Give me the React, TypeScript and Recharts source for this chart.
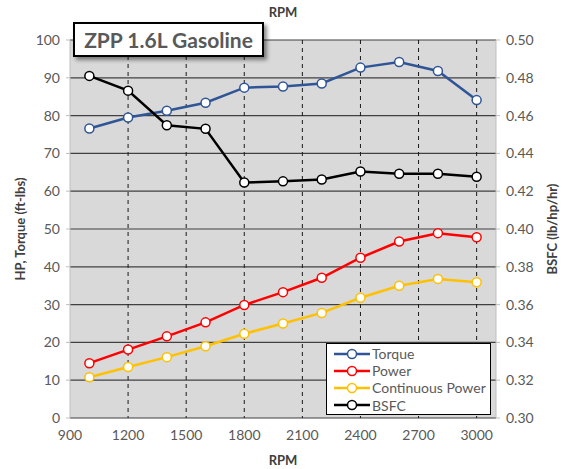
import React from 'react';
import { LineChart, Line, XAxis, YAxis, CartesianGrid } from 'recharts';

const rpm = [1000, 1200, 1400, 1600, 1800, 2000, 2200, 2400, 2600, 2800, 3000];
const torque = [76.6, 79.5, 81.3, 83.4, 87.4, 87.7, 88.5, 92.7, 94.2, 91.8, 84.1];
const power = [14.5, 18.1, 21.6, 25.3, 29.9, 33.3, 37.1, 42.4, 46.7, 48.9, 47.8];
const continuousPower = [10.8, 13.5, 16.1, 19.0, 22.3, 25.0, 27.8, 31.8, 35.0, 36.8, 35.9];
const bsfc = [0.481, 0.4732, 0.4549, 0.453, 0.4246, 0.4252, 0.4262, 0.4304, 0.4292, 0.4292, 0.4276];

const xTicks = [900, 1200, 1500, 1800, 2100, 2400, 2700, 3000];
const leftTicks = [0, 10, 20, 30, 40, 50, 60, 70, 80, 90, 100];
const rightTicks = [0.3, 0.32, 0.34, 0.36, 0.38, 0.4, 0.42, 0.44, 0.46, 0.48, 0.5];

const series = [
  { key: 'torque', name: 'Torque', color: '#2f5597', axis: 'l' },
  { key: 'power', name: 'Power', color: '#ff0000', axis: 'l' },
  { key: 'cont', name: 'Continuous Power', color: '#ffc000', axis: 'l' },
  { key: 'bsfc', name: 'BSFC', color: '#000000', axis: 'r' },
];

const data = rpm.map((r, i) => ({
  rpm: r,
  torque: torque[i],
  power: power[i],
  cont: continuousPower[i],
  bsfc: bsfc[i],
}));

const FONT = 'Lato, "Open Sans", sans-serif';
const tickStyle = { fill: '#595959', fontSize: 14, fontFamily: FONT };
const titleStyle = { fill: '#404040', fontSize: 13, fontWeight: 700, fontFamily: FONT };

export default function App() {
  return (
    <div style={{ position: 'absolute', left: 0, top: 0, width: 564, height: 469, background: '#fff', fontFamily: FONT }}>
      <LineChart width={564} height={469} data={data} margin={{ top: 0, right: 0, bottom: 0, left: 0 }}>
        <CartesianGrid
          xAxisId="b"
          yAxisId="l"
          vertical={false}
          stroke="#404040"
          strokeWidth={1.2}
          fill="#d9d9d9"
          fillOpacity={1}
        />
        <CartesianGrid
          xAxisId="b"
          yAxisId="l"
          horizontal={false}
          stroke="#1a1a1a"
          strokeDasharray="4 4"
          verticalValues={xTicks.slice(1)}
        />
        <XAxis
          xAxisId="b"
          dataKey="rpm"
          type="number"
          domain={[900, 3100]}
          ticks={xTicks}
          height={51}
          axisLine={false}
          tickLine={false}
          tick={tickStyle}
          tickMargin={6}
          label={{ value: 'RPM', position: 'insideBottom', offset: 4, style: titleStyle }}
        />
        <XAxis
          xAxisId="t"
          orientation="top"
          dataKey="rpm"
          type="number"
          domain={[900, 3100]}
          height={40}
          axisLine={false}
          tickLine={false}
          tick={false}
          label={{ value: 'RPM', position: 'insideTop', offset: 8, style: titleStyle }}
        />
        <YAxis
          yAxisId="l"
          domain={[0, 100]}
          ticks={leftTicks}
          width={70}
          axisLine={{ stroke: '#bfbfbf' }}
          tickLine={{ stroke: '#bfbfbf' }}
          tickSize={4}
          tickMargin={6}
          tick={tickStyle}
          label={{ value: 'HP, Torque (ft-lbs)', angle: -90, position: 'insideLeft', offset: 20, style: { ...titleStyle, textAnchor: 'middle' } }}
        />
        <YAxis
          yAxisId="r"
          orientation="right"
          domain={[0.3, 0.5]}
          ticks={rightTicks}
          width={68}
          axisLine={{ stroke: '#bfbfbf' }}
          tickLine={{ stroke: '#bfbfbf' }}
          tickSize={4}
          tickMargin={6}
          tick={tickStyle}
          tickFormatter={(v: number) => v.toFixed(2)}
          label={{ value: 'BSFC (lb/hp/hr)', angle: -90, position: 'insideRight', offset: 12, style: { ...titleStyle, textAnchor: 'middle' } }}
        />
        {series.map((s) => (
          <Line
            key={s.key}
            xAxisId="b"
            yAxisId={s.axis}
            dataKey={s.key}
            name={s.name}
            type="linear"
            stroke={s.color}
            strokeWidth={2.5}
            dot={{ r: 4.5, fill: '#ffffff', stroke: s.color, strokeWidth: 1.5 }}
            isAnimationActive={false}
          />
        ))}
      </LineChart>

      <div
        style={{
          position: 'absolute',
          left: 73,
          top: 22,
          width: 187,
          height: 31,
          border: '2px solid #000',
          background: '#fff',
          boxShadow: '3px 3px 4px rgba(0,0,0,0.45)',
          color: '#595959',
          fontWeight: 700,
          fontSize: 21,
          lineHeight: '31px',
          textAlign: 'center',
          whiteSpace: 'nowrap',
        }}
      >
        ZPP 1.6L Gasoline
      </div>

      <div
        style={{
          position: 'absolute',
          left: 326,
          top: 343,
          width: 163,
          height: 69,
          border: '1.5px solid #000',
          background: '#fff',
          paddingTop: 1,
          boxSizing: 'content-box',
        }}
      >
        {series.map((s) => (
          <div key={s.key} style={{ display: 'flex', alignItems: 'center', height: 17.2, marginLeft: 6 }}>
            <svg width={38} height={12} style={{ flex: 'none' }}>
              <line x1={1} y1={6} x2={37} y2={6} stroke={s.color} strokeWidth={2.5} />
              <circle cx={19} cy={6} r={4.5} fill="#fff" stroke={s.color} strokeWidth={1.5} />
            </svg>
            <span style={{ color: '#595959', fontSize: 14, marginLeft: 1, whiteSpace: 'nowrap' }}>{s.name}</span>
          </div>
        ))}
      </div>
    </div>
  );
}
